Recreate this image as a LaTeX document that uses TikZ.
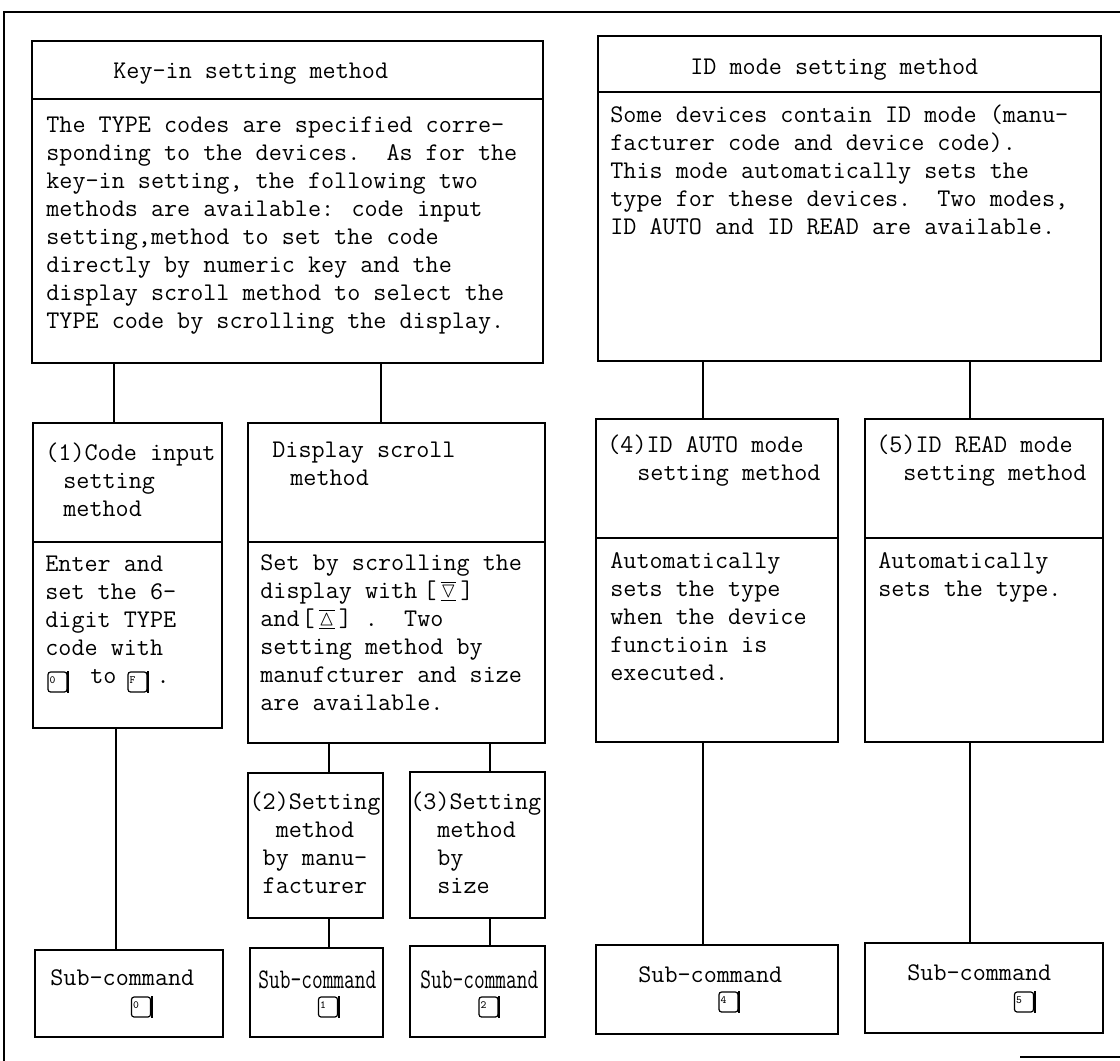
\documentclass[tikz,border=0pt]{standalone}
\usepackage{amssymb}
\usepackage{graphicx}
\usetikzlibrary{fit}
\tikzset{
  frame/.style={draw, line width=0.65pt, inner sep=0pt},
  hframe/.style={draw, line width=1.15pt, inner sep=0pt},
  link/.style={line width=0.6pt},
  txt/.style={anchor=north west, inner sep=0pt, align=left,
    font=\fontsize{12.7}{14}\selectfont\ttfamily, execute at begin node=\strut},
  ctxt/.style={txt, anchor=north, align=center},
  kcap/.style={draw, line width=0.6pt, rounded corners=1.3pt, minimum width=9.5pt,
    minimum height=10pt, inner sep=0pt, font=\fontsize{5.5}{5.5}\selectfont\ttfamily},
}
\newcommand{\kd}[1]{\makebox[8pt][l]{\raisebox{2pt}{#1}}}
\newcommand{\trikey}[1]{[\,\smash{\raisebox{0.3pt}{\scalebox{0.85}{$\overline{\underline{#1}}$}}}\,]}
\begin{document}
\begin{tikzpicture}[x=0.5pt,y=-0.5pt]
\useasboundingbox (0,0) rectangle (1120,1061);
\fill[white] (0,0) rectangle (1120,1061);
% outer frame pieces
\draw[link] (1120,12) -- (4,12) -- (4,1061);
\draw[link] (1020,1057) -- (1120,1057);

% column x coordinates for connectors
\coordinate (xa) at (114,0);
\coordinate (xb) at (381,0);
\coordinate (xc) at (703,0);
\coordinate (xd) at (970,0);
\coordinate (xe) at (116,0);
\coordinate (xf) at (329,0);
\coordinate (xg) at (490,0);

% top boxes
\node[frame, fit={(32,41) (543,99)}] (kh) {};
\node[frame, fit={(32,99) (543,363)}] (kb) {};
\node[frame, fit={(598,36) (1101,92)}] (ih) {};
\node[frame, fit={(598,92) (1101,361)}] (ib) {};
\node[txt] (khT) at (113,58) {Key-in setting method};
\node[txt] (ihT) at (690,54) {ID mode setting method};
\node[txt] (kbT) at (46,116) {The TYPE codes are specified corre-\\
sponding to the devices.\ \ As for the\\
key-in setting, the following two\\
methods are available: code input\\
setting,method to set the code\\
directly by numeric key and the\\
display scroll method to select the\\
TYPE code by scrolling the display.};
\node[txt] (ibT) at (610,104) {Some devices contain ID mode (manu-\\
facturer code and device code).\\
This mode automatically sets the\\
type for these devices.\ \ Two modes,\\
ID AUTO and ID READ are available.};

% second row
\node[hframe, fit={(33,423) (222,542)}] (c1h) {};
\node[frame, fit={(33,542) (222,728)}] (c1b) {};
\node[frame, fit={(248,423) (545,542)}] (dh) {};
\node[frame, fit={(248,542) (545,743)}] (db) {};
\node[hframe, fit={(596,419) (838,538)}] (c4h) {};
\node[frame, fit={(596,538) (838,742)}] (c4b) {};
\node[hframe, fit={(865,419) (1103,538)}] (c5h) {};
\node[frame, fit={(865,538) (1103,742)}] (c5b) {};

\node[txt] (c1hT) at (45,442) {(1)Code input\\\hspace*{9pt}setting\\\hspace*{9pt}method};
\node[txt] (dhT) at (272,442) {Display scroll\\\hspace*{9pt}method};
\node[txt] (c4hT) at (607,434) {(4)ID AUTO mode\\\hspace*{15pt}setting method};
\node[txt] (c5hT) at (876,434) {(5)ID READ mode\\\hspace*{13.5pt}setting method};

\node[txt] (c1bT) at (45,556) {Enter and\\set the 6-\\digit TYPE\\code with\\
\hspace*{22.5pt}to\hspace*{20pt}.};
\node[kcap] (k0) at (57.5,682) {\kd{0}};
\node[kcap] (kF) at (137.5,682) {\kd{F}};
\draw[line width=1.1pt] ([xshift=0.3pt]k0.north east) -- ([xshift=0.3pt]k0.south east);
\draw[line width=1.1pt] ([xshift=0.3pt]kF.north east) -- ([xshift=0.3pt]kF.south east);

\node[txt] (dbT) at (260,554) {Set by scrolling the\\
display with\hspace{3pt}\trikey{\triangledown}\\
and\hspace{1pt}\trikey{\vartriangle}\ .\ \ Two\\
setting method by\\
manufcturer and size\\
are available.};
\node[txt] (c4bT) at (610,552) {Automatically\\sets the type\\when the device\\functioin is\\executed.};
\node[txt] (c5bT) at (878,552) {Automatically\\sets the type.};

% third row (2),(3)
\node[hframe, fit={(248,773) (383,918)}] (c2) {};
\node[hframe, fit={(410,772) (545,918)}] (c3) {};
\node[ctxt] (c2T) at (315,791) {(2)Setting\\method\\by manu-\\facturer};
\node[txt] (c3T) at (410,791) {(3)Setting\\\hspace*{13.5pt}method\\\hspace*{13.5pt}by\\\hspace*{13.5pt}size};

% sub-command boxes
\node[frame, fit={(35,950) (223,1037)}] (s0) {};
\node[frame, fit={(250,948) (383,1037)}] (s1) {};
\node[frame, fit={(410,946) (545,1037)}] (s2) {};
\node[frame, fit={(596,945) (838,1034)}] (s4) {};
\node[frame, fit={(865,943) (1103,1033)}] (s5) {};
\node[txt] (s0T) at (50,965) {Sub-command};
\node[txt] (s1T) at (258,968) {\scalebox{0.82}[1.12]{Sub-command}};
\node[txt] (s2T) at (420,968) {\scalebox{0.82}[1.12]{Sub-command}};
\node[txt] (s4T) at (638,962) {Sub-command};
\node[txt] (s5T) at (907,960) {Sub-command};
\node[kcap] (ks0) at (141,1007) {\kd{0}};
\node[kcap] (ks1) at (328,1007) {\kd{1}};
\node[kcap] (ks2) at (488.5,1007) {\kd{2}};
\node[kcap] (ks4) at (728.5,1002) {\kd{4}};
\node[kcap] (ks5) at (1024,1002) {\kd{5}};
\foreach \k in {ks0,ks1,ks2,ks4,ks5}
  \draw[line width=1.1pt] ([xshift=0.3pt]\k.north east) -- ([xshift=0.3pt]\k.south east);

% connectors
\draw[link] (kb.south -| xa) -- (c1h.north -| xa);
\draw[link] (kb.south -| xb) -- (dh.north -| xb);
\draw[link] (ib.south -| xc) -- (c4h.north -| xc);
\draw[link] (ib.south -| xd) -- (c5h.north -| xd);
\draw[link] (c1b.south -| xe) -- (s0.north -| xe);
\draw[link] (db.south -| xf) -- (c2.north -| xf);
\draw[link] (db.south -| xg) -- (c3.north -| xg);
\draw[link] (c2.south -| xf) -- (s1.north -| xf);
\draw[link] (c3.south -| xg) -- (s2.north -| xg);
\draw[link] (c4b.south -| xc) -- (s4.north -| xc);
\draw[link] (c5b.south -| xd) -- (s5.north -| xd);
\end{tikzpicture}
\end{document}
